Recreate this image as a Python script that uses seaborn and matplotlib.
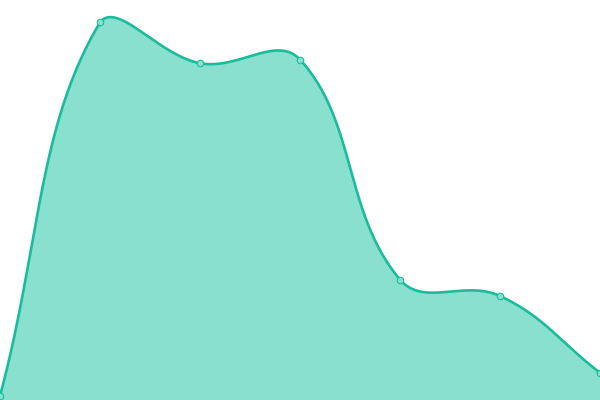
import numpy as np
import pandas as pd
import matplotlib
matplotlib.use("Agg")
import matplotlib.pyplot as plt
import seaborn as sns

# Data (y axis 0-100, x = category index)
categories = [0, 1, 2, 3, 4, 5, 6]
values = [1.0, 94.4, 84.2, 85.1, 30.1, 26.0, 6.8]

line_color = "#1abc9c"
fill_color = "#89e0ce"

W, H = 600, 400
x_max, y_max = 6, 100
tension = 0.4


def to_px(xs, ys):
    return np.asarray(xs) * W / x_max, H - np.asarray(ys) * H / y_max


def from_px(px, py):
    return np.asarray(px) * x_max / W, (H - np.asarray(py)) * y_max / H


# Chart.js style spline through the points, computed in pixel space
px, py = to_px(categories, values)
pts = np.column_stack([px, py])
n = len(pts)
cp_prev = pts.copy()
cp_next = pts.copy()
for i in range(n):
    p0 = pts[max(i - 1, 0)]
    p1 = pts[i]
    p2 = pts[min(i + 1, n - 1)]
    d01 = np.hypot(*(p1 - p0))
    d12 = np.hypot(*(p2 - p1))
    s01 = d01 / (d01 + d12) if d01 + d12 else 0
    s12 = d12 / (d01 + d12) if d01 + d12 else 0
    cp_prev[i] = p1 - tension * s01 * (p2 - p0)
    cp_next[i] = p1 + tension * s12 * (p2 - p0)
cp_prev[:, 1] = np.clip(cp_prev[:, 1], 0, H)
cp_next[:, 1] = np.clip(cp_next[:, 1], 0, H)

t = np.linspace(0, 1, 60)[:, None]
curve = []
for i in range(n - 1):
    a, b, c, d = pts[i], cp_next[i], cp_prev[i + 1], pts[i + 1]
    seg = (1 - t) ** 3 * a + 3 * (1 - t) ** 2 * t * b + 3 * (1 - t) * t ** 2 * c + t ** 3 * d
    curve.append(seg if i == 0 else seg[1:])
curve = np.vstack(curve)
cx, cy = from_px(curve[:, 0], curve[:, 1])
smooth = pd.DataFrame({"x": cx, "y": cy})
points = pd.DataFrame({"x": categories, "y": values})

sns.set_style("white")
fig = plt.figure(figsize=(6, 4), dpi=100)
ax = fig.add_axes([0, 0, 1, 1])

ax.fill_between(smooth["x"], smooth["y"], 0, color=fill_color, lw=0)
sns.lineplot(data=smooth, x="x", y="y", sort=False, color=line_color,
             linewidth=1.9, ax=ax)
sns.scatterplot(data=points, x="x", y="y", s=22, color=fill_color,
                edgecolor=line_color, linewidth=0.8, ax=ax, zorder=5)

ax.set_xlim(0, x_max)
ax.set_ylim(0, y_max)
ax.axis("off")

fig.savefig("out.png", dpi=100)
